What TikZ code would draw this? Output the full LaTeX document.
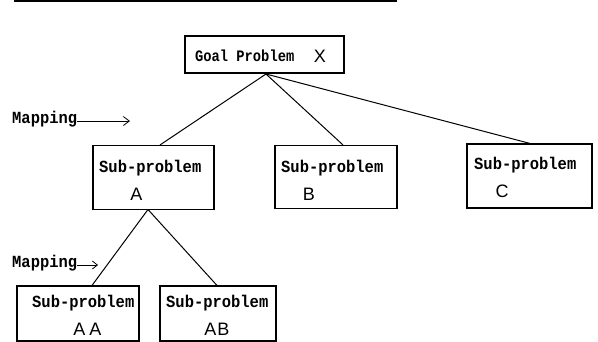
\documentclass[tikz,border=0pt]{standalone}
\usepackage{fontspec}
\setmonofont{Liberation Mono}
\newfontfamily\subfont[FakeStretch=0.91]{Liberation Mono Bold}
\newfontfamily\goalfont[FakeStretch=0.86]{Liberation Mono Bold}
\newfontfamily\letterfont{Liberation Sans}
\usetikzlibrary{calc,arrows.meta}
\begin{document}
\begin{tikzpicture}[x=1pt,y=-1pt,
  box/.style={draw,line width=1.1pt,rectangle,inner sep=0pt},
  edge/.style={line width=1pt},
  txt/.style={inner sep=0pt,anchor=base west,font=\subfont\fontsize{17}{19}\selectfont},
  gtxt/.style={inner sep=0pt,anchor=base west,font=\goalfont\fontsize{16}{18}\selectfont},
  let/.style={inner sep=0pt,anchor=base,font=\letterfont\fontsize{18}{20}\selectfont},
  marrow/.style={line width=0.8pt,-{Straight Barb[length=6pt,width=9pt]}}]
\useasboundingbox (0,0) rectangle (598,341);
\clip (0,0) rectangle (598,341);
% top rule
\coordinate (r1) at (14,1);
\coordinate (r2) at (397,1);
\draw[line width=2.2pt] (r1) -- (r2);
% boxes
\node[box,minimum width=159pt,minimum height=37pt] (goal) at (264.5,54.5) {};
\node[box,minimum width=121pt,minimum height=64pt] (sa) at (153.5,177.5) {};
\node[box,minimum width=122pt,minimum height=63pt] (sb) at (336,177) {};
\node[box,minimum width=125pt,minimum height=64pt] (sc) at (529.5,176) {};
\node[box,minimum width=122pt,minimum height=55pt] (saa) at (78,313.5) {};
\node[box,minimum width=116pt,minimum height=55pt] (sab) at (218,313.5) {};
% texts
\node[gtxt] (tg) at (195,61) {Goal Problem};
\node[let] (tx) at (320,62) {X};
\node[txt] (ta) at (99,172) {Sub-problem};
\node[let] (la) at (136.5,200) {A};
\node[txt] (tb) at (281,172) {Sub-problem};
\node[let] (lb) at (309,200) {B};
\node[txt] (tc) at (474,169) {Sub-problem};
\node[let] (lc) at (502,197) {C};
\node[txt] (taa) at (32,307) {Sub-problem};
\node[let] (laa) at (87.5,335) {A\hspace{4pt}A};
\node[txt] (tab) at (166,307) {Sub-problem};
\node[let] (lab) at (217,335) {A\hspace{1pt}B};
% mapping labels
\node[txt] (m1) at (12,123) {Mapping};
\coordinate (m1e) at (130,121);
\draw[marrow] (m1.base east) ++(0,-2) -- (m1e);
\node[txt] (m2) at (12,267) {Mapping};
\coordinate (m2e) at (98,265);
\draw[marrow,-{Straight Barb[length=5pt,width=8pt]}] (m2.base east) ++(0,-2) -- (m2e);
% edges
\coordinate (apex) at (266,74);
\draw[edge] (apex) -- (sa.north -| 160,0);
\draw[edge] (apex) -- (sb.north -| 343,0);
\draw[edge] (apex) -- (sc.north -| 530,0);
\coordinate (apexa) at (148,209.5);
\draw[edge] (apexa) -- (saa.north -| 92,0);
\draw[edge] (apexa) -- (sab.north -| 217,0);
\end{tikzpicture}
\end{document}
